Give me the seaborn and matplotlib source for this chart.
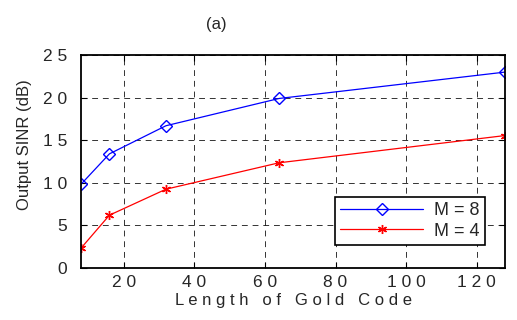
import matplotlib
matplotlib.use("Agg")
import matplotlib.pyplot as plt
import seaborn as sns
import pandas as pd

code_length = [8, 16, 32, 64, 128]
sinr_m8 = [9.85, 13.4, 16.7, 19.9, 23.0]
sinr_m4 = [2.35, 6.2, 9.25, 12.35, 15.55]
series_labels = ["M = 8", "M = 4"]
x_ticks = [20, 40, 60, 80, 100, 120]
y_ticks = [0, 5, 10, 15, 20, 25]

def spaced(v):
    return " ".join(str(v))

sns.set_theme(style="white")
plt.rcParams['font.family'] = ['Liberation Sans', 'DejaVu Sans']

df8 = pd.DataFrame({"x": code_length, "y": sinr_m8})
df4 = pd.DataFrame({"x": code_length, "y": sinr_m4})

fig = plt.figure(figsize=(5.17, 3.20), dpi=100)
ax = fig.add_axes([0.157, 0.1625, 0.82, 0.6655])

sns.lineplot(data=df8, x="x", y="y", color="#0000ff", marker="D",
             linewidth=0.9, markersize=6.5, markerfacecolor="none",
             markeredgecolor="#0000ff", markeredgewidth=1.0,
             label=series_labels[0], ax=ax)
sns.lineplot(data=df4, x="x", y="y", color="#ff0000", marker=(6, 2, 0),
             linewidth=0.9, markersize=6.5, markeredgecolor="#ff0000",
             markeredgewidth=1.0, label=series_labels[1], ax=ax)

ax.set_xlim(8, 128)
ax.set_ylim(0, 25)
ax.set_xticks(x_ticks)
ax.set_yticks(y_ticks)
ax.set_xticklabels([spaced(t) for t in x_ticks], fontsize=12.5)
ax.set_yticklabels([spaced(t) for t in y_ticks], fontsize=12.5)
ax.tick_params(direction="in", length=4, top=True, right=True, bottom=True, left=True, color="black", width=0.8)
ax.tick_params(axis="x", pad=5)
ax.tick_params(axis="y", pad=10)
ax.grid(True, color="black", linestyle=(0, (6, 5)), linewidth=0.7, alpha=0.8)
for s in ax.spines.values():
    s.set_color("black")
    s.set_linewidth(1.3)

ax.set_xlabel(" ".join("Length of Gold Code"), fontsize=12, labelpad=2)
ax.set_ylabel("Output SINR (dB)", fontsize=12)
ax.yaxis.set_label_coords(-0.115, 0.58)
ax.set_title("(a)", fontsize=12, pad=19, x=0.318)

leg = ax.legend(loc="lower right", bbox_to_anchor=(0.953, 0.108),
                fontsize=13, frameon=True, fancybox=False, edgecolor="black",
                handlelength=4.6, borderpad=0.3, labelspacing=0.2,
                handletextpad=0.6, borderaxespad=0)
leg.get_frame().set_linewidth(1.2)
leg.get_frame().set_alpha(1)

fig.savefig("out.png", dpi=100, facecolor="white")
